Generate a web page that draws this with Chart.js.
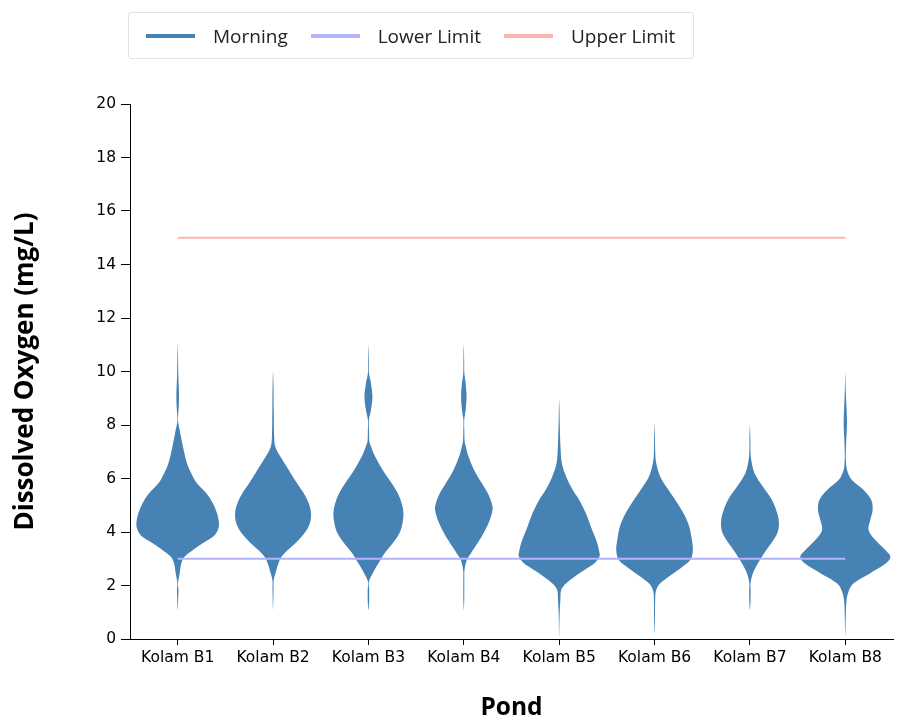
<!DOCTYPE html>
<html>
<head>
<meta charset="utf-8">
<script src="https://cdn.jsdelivr.net/npm/chart.js@4.4.1/dist/chart.umd.min.js"></script>
<style>
  body { margin: 0; background: #fff; }
  #wrap { position: relative; width: 897px; height: 721px; }
  #chart { position: absolute; left: 0; top: 0; }
  #legend {
    position: absolute; left: 128px; top: 12px; width: 566px; height: 47px;
    box-sizing: border-box; border: 1px solid #e3e3e3; border-radius: 3px;
    display: flex; align-items: center; padding-left: 17px;
    font-family: "Open Sans", sans-serif; font-size: 19px; color: #222;
    white-space: nowrap;
  }
  #legend .item { display: flex; align-items: center; margin-right: 23px; flex-shrink: 0; }
  #legend .swatch { width: 49px; height: 4px; margin-right: 18px; flex-shrink: 0; }
</style>
</head>
<body>
<div id="wrap">
  <canvas id="chart" width="897" height="721"></canvas>
  <div id="legend"></div>
</div>
<script>
// ponds and reference limits
var ponds = ['Kolam B1', 'Kolam B2', 'Kolam B3', 'Kolam B4', 'Kolam B5', 'Kolam B6', 'Kolam B7', 'Kolam B8'];
var lowerLimit = [3, 3, 3, 3, 3, 3, 3, 3];
var upperLimit = [15, 15, 15, 15, 15, 15, 15, 15];

// morning DO density per pond: [mg/L, relative density]
var morningB1 = [[11.05,0],[10.6,0.007],[9.93,0.012],[9.5,0.022],[9.06,0.03],[8.6,0.02],[8.19,0.006],[7.81,0.044],[7.19,0.116],[6.57,0.204],[6.19,0.30],[5.82,0.424],[5.45,0.63],[5.07,0.776],[4.70,0.864],[4.32,0.908],[4.07,0.88],[3.82,0.776],[3.58,0.55],[3.33,0.336],[3.08,0.154],[2.83,0.081],[2.46,0.044],[2.08,0.007],[1.83,0.016],[1.58,0.012],[1.08,0]];
var morningB2 = [[10.0,0],[9.5,0.01],[8.5,0.016],[7.6,0.024],[7.19,0.05],[6.82,0.16],[6.32,0.345],[5.82,0.527],[5.45,0.675],[5.07,0.785],[4.70,0.835],[4.32,0.807],[3.95,0.688],[3.58,0.49],[3.20,0.248],[2.95,0.147],[2.58,0.073],[2.21,0.015],[1.83,0.011],[1.08,0]];
var morningB3 = [[11.0,0],[10.4,0.008],[9.93,0.012],[9.56,0.055],[9.06,0.088],[8.56,0.055],[8.19,0.011],[7.8,0.013],[7.4,0.02],[7.19,0.059],[6.82,0.147],[6.32,0.314],[5.82,0.512],[5.45,0.644],[5.07,0.732],[4.70,0.77],[4.32,0.747],[3.95,0.68],[3.58,0.534],[3.20,0.352],[2.83,0.22],[2.46,0.095],[2.15,0.011],[1.83,0.016],[1.46,0.016],[1.08,0]];
var morningB4 = [[11.0,0],[10.4,0.008],[9.93,0.012],[9.56,0.04],[9.06,0.06],[8.56,0.04],[8.19,0.008],[7.8,0.011],[7.4,0.018],[7.19,0.044],[6.82,0.103],[6.32,0.226],[5.82,0.396],[5.45,0.527],[5.07,0.615],[4.82,0.63],[4.45,0.571],[3.95,0.433],[3.58,0.301],[3.20,0.154],[2.95,0.066],[2.58,0.015],[2.2,0.011],[1.5,0.01],[1.08,0]];
var morningB5 = [[8.93,0],[8.5,0.008],[8.06,0.012],[7.19,0.029],[6.57,0.059],[6.07,0.154],[5.57,0.3],[5.20,0.44],[4.70,0.587],[4.20,0.697],[3.70,0.813],[3.33,0.873],[3.08,0.886],[2.83,0.776],[2.58,0.556],[2.33,0.336],[2.08,0.154],[1.83,0.044],[1.46,0.026],[0.96,0.011],[0.09,0]];
var morningB6 = [[8.06,0],[7.5,0.01],[7.0,0.014],[6.57,0.037],[6.07,0.125],[5.57,0.308],[5.20,0.455],[4.70,0.637],[4.20,0.763],[3.70,0.82],[3.33,0.842],[2.95,0.785],[2.64,0.565],[2.33,0.308],[2.08,0.125],[1.83,0.037],[1.5,0.014],[0.8,0.01],[0.2,0]];
var morningB7 = [[8.0,0],[7.5,0.01],[7.07,0.012],[6.69,0.029],[6.19,0.103],[5.69,0.286],[5.20,0.484],[4.70,0.6],[4.32,0.637],[3.95,0.6],[3.58,0.468],[3.20,0.308],[2.83,0.176],[2.46,0.066],[2.08,0.013],[1.83,0.016],[1.4,0.013],[1.08,0]];
var morningB8 = [[9.93,0],[9.3,0.01],[8.7,0.025],[8.06,0.037],[7.4,0.02],[6.9,0.011],[6.69,0.013],[6.32,0.037],[5.94,0.147],[5.57,0.402],[5.20,0.571],[4.82,0.6],[4.45,0.549],[4.07,0.512],[3.70,0.66],[3.33,0.879],[3.08,0.99],[2.83,0.895],[2.46,0.549],[2.08,0.182],[1.71,0.059],[1.33,0.022],[0.96,0.013],[0.09,0]];

var morningColor = '#4682b4';
var lowerColor = '#b3b3ff';
var upperColor = '#ffb3b3';

// violins drawn under the limit lines
var violinPlugin = {
  id: 'violin',
  beforeDatasetsDraw: function(chart, args, opts) {
    var ctx = chart.ctx;
    var x = chart.scales.x, y = chart.scales.y;
    var step = x.getPixelForValue(1) - x.getPixelForValue(0);
    var hw = step * opts.halfWidth;

    ctx.save();
    ctx.fillStyle = opts.color;
    opts.profiles.forEach(function(prof, i) {
      var cx = x.getPixelForValue(i);
      var pts = prof.slice().sort(function(a, b) { return a[0] - b[0]; });
      var right = pts.map(function(p) { return [cx + p[1] * hw, y.getPixelForValue(p[0])]; });
      var left = pts.slice().reverse().map(function(p) { return [cx - p[1] * hw, y.getPixelForValue(p[0])]; });
      var loop = right.concat(left.slice(1, -1));
      var n = loop.length;

      // closed catmull-rom outline
      ctx.beginPath();
      ctx.moveTo(loop[0][0], loop[0][1]);
      for (var k = 0; k < n; k++) {
        var p0 = loop[(k - 1 + n) % n], p1 = loop[k], p2 = loop[(k + 1) % n], p3 = loop[(k + 2) % n];
        ctx.bezierCurveTo(
          p1[0] + (p2[0] - p0[0]) / 6, p1[1] + (p2[1] - p0[1]) / 6,
          p2[0] - (p3[0] - p1[0]) / 6, p2[1] - (p3[1] - p1[1]) / 6,
          p2[0], p2[1]);
      }
      ctx.closePath();
      ctx.fill();
    });
    ctx.restore();
  }
};

var tickFont = { family: 'DejaVu Sans', size: 15.5 };

new Chart(document.getElementById('chart'), {
  type: 'line',
  data: {
    labels: ponds,
    datasets: [
      { label: 'Lower Limit', data: lowerLimit, borderColor: lowerColor, borderWidth: 2, pointRadius: 0, fill: false },
      { label: 'Upper Limit', data: upperLimit, borderColor: upperColor, borderWidth: 2, pointRadius: 0, fill: false }
    ]
  },
  options: {
    responsive: false,
    animation: false,
    devicePixelRatio: 1,
    layout: { padding: { top: 104, right: 4, bottom: 0, left: 0 } },
    plugins: {
      legend: { display: false },
      tooltip: { enabled: false },
      violin: {
        profiles: [morningB1, morningB2, morningB3, morningB4, morningB5, morningB6, morningB7, morningB8],
        color: morningColor,
        halfWidth: 0.477
      }
    },
    scales: {
      x: {
        offset: true,
        grid: { offset: false, drawOnChartArea: false, tickLength: 6, color: '#000' },
        border: { color: '#000', width: 1 },
        ticks: { font: tickFont, color: '#000', padding: 4, maxRotation: 0, autoSkip: false },
        title: { display: true, text: 'Pond', font: { family: 'Open Sans', size: 24.5, weight: 'bold', lineHeight: 1 }, color: '#000', padding: { top: 0, bottom: 1 } },
        afterFit: function(s) { s.height = 82; }
      },
      y: {
        min: 0,
        max: 20,
        grid: { drawOnChartArea: false, tickLength: 9, color: '#000' },
        border: { color: '#000', width: 1 },
        ticks: { stepSize: 2, font: tickFont, color: '#000', padding: 5 },
        title: { display: true, text: 'Dissolved Oxygen (mg/L)', font: { family: 'Open Sans', size: 26, weight: 'bold', lineHeight: 1 }, color: '#000', padding: { top: 13, bottom: 0 } },
        afterFit: function(s) { s.width = 130; }
      }
    }
  },
  plugins: [violinPlugin]
});

// legend
var legendItems = [['Morning', morningColor], ['Lower Limit', lowerColor], ['Upper Limit', upperColor]];
var legendEl = document.getElementById('legend');
legendItems.forEach(function(it) {
  var item = document.createElement('div');
  item.className = 'item';
  var sw = document.createElement('span');
  sw.className = 'swatch';
  sw.style.background = it[1];
  var txt = document.createElement('span');
  txt.textContent = it[0];
  item.appendChild(sw);
  item.appendChild(txt);
  legendEl.appendChild(item);
});
</script>
</body>
</html>
